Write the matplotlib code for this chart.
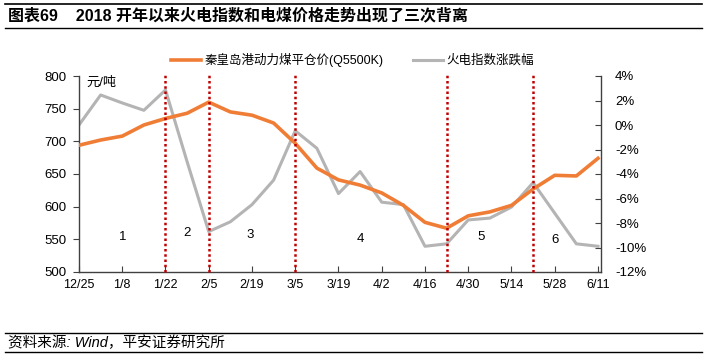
import numpy as np
import matplotlib
matplotlib.use("Agg")
import matplotlib.pyplot as plt
from matplotlib.lines import Line2D

plt.rcParams['font.family'] = ['Liberation Sans', 'Noto Sans CJK SC', 'DejaVu Sans']

# weekly data, 2017-12-25 .. 2018-06-11
weeks = ['12/25', '1/1', '1/8', '1/15', '1/22', '1/29', '2/5', '2/12', '2/19', '2/26',
         '3/5', '3/12', '3/19', '3/26', '4/2', '4/9', '4/16', '4/23', '4/30', '5/7',
         '5/14', '5/21', '5/28', '6/4', '6/11']
coal_price = [694, 702, 708, 725, 735, 743, 760, 745, 740, 728,
              697, 659, 641, 633, 621, 602, 576, 567, 586, 592,
              602, 627, 648, 647, 674]
index_chg = [0.0, 2.45, 1.8, 1.2, 2.86, -3.0, -8.7, -7.9, -6.5, -4.5,
             -0.47, -1.9, -5.6, -3.8, -6.3, -6.5, -9.9, -9.7, -7.75, -7.6,
             -6.7, -4.7, -7.2, -9.7, -9.9]
divergence_weeks = ['1/22', '2/5', '3/5', '4/23', '5/21']
phase_labels = ['1', '2', '3', '4', '5', '6']
phase_pos = [2.0, 5.0, 7.9, 13.0, 18.6, 22.0]
phase_y = [553, 559, 556, 551, 554, 549]
left_ticks = [500, 550, 600, 650, 700, 750, 800]
right_ticks = [-12, -10, -8, -6, -4, -2, 0, 2, 4]

orange = '#F07D36'
grey = '#B4B4B4'
red = '#C00000'

fig = plt.figure(figsize=(7.07, 3.54), dpi=100)
ax = fig.add_axes([79 / 707, 1 - 272 / 354, (601 - 79) / 707, (272 - 76) / 354])
ax2 = ax.twinx()

x = np.arange(len(weeks))
ax.plot(x, coal_price, color=orange, lw=2.6, zorder=3, solid_joinstyle='round')
ax2.plot(x, index_chg, color=grey, lw=2.2, zorder=2, solid_joinstyle='round')
ax.set_zorder(ax2.get_zorder() + 1)
ax.patch.set_visible(False)

for w in divergence_weeks:
    ax.axvline(weeks.index(w), ymin=0, ymax=1.01, color=red, lw=1.8,
               ls=(0, (1, 1.1)), zorder=4, clip_on=False)

for lab, px, py in zip(phase_labels, phase_pos, phase_y):
    ax.text(px, py, lab, ha='center', va='center', fontsize=9.5, color='black')

ax.set_xlim(0, 24.14)
ax.set_ylim(500, 800)
ax2.set_ylim(-12, 4)
ax.set_yticks(left_ticks)
ax2.set_yticks(right_ticks)
ax2.set_yticklabels(['%d%%' % t for t in right_ticks])
ax.set_xticks(x[::2])
ax.set_xticklabels(weeks[::2])

for a in (ax, ax2):
    a.spines['top'].set_visible(False)
    for s in a.spines.values():
        s.set_color('#404040')
        s.set_linewidth(1.0)
ax.spines['right'].set_visible(False)
ax2.spines['left'].set_visible(False)
ax2.spines['bottom'].set_visible(False)

ax.tick_params(axis='y', direction='out', length=4, labelsize=9.5, pad=5, color='#404040')
ax.tick_params(axis='x', direction='in', length=4, labelsize=9, pad=5, color='#404040')
ax2.tick_params(axis='y', direction='in', length=4, labelsize=9.5, pad=10, color='#404040')

ax.text(0.35, 790, '元/吨', fontsize=9.5, va='center', ha='left')

handles = [Line2D([], [], color=orange, lw=2.6), Line2D([], [], color=grey, lw=2.2)]
fig.legend(handles, ['秦皇岛港动力煤平仓价(Q5500K)', '火电指数涨跌幅'],
           loc='center left', bbox_to_anchor=(171 / 707, 1 - 60 / 354), ncol=2,
           frameon=False, fontsize=9, handlelength=2.4, handletextpad=0.3,
           columnspacing=2.3, borderaxespad=0, borderpad=0)

# header / footer
fig.add_artist(Line2D([5 / 707, 702 / 707], [1 - 4 / 354] * 2, color='black', lw=1.2))
fig.add_artist(Line2D([5 / 707, 702 / 707], [1 - 28 / 354] * 2, color='black', lw=1.0))
fig.text(8 / 707, 1 - 16 / 354, '图表69    2018 开年以来火电指数和电煤价格走势出现了三次背离',
         fontsize=11.5, fontweight='bold', va='center', ha='left')
fig.add_artist(Line2D([5 / 707, 702 / 707], [1 - 333 / 354] * 2, color='black', lw=1.0))
fig.add_artist(Line2D([5 / 707, 702 / 707], [1 - 352 / 354] * 2, color='black', lw=1.0))
fig.text(8 / 707, 1 - 343 / 354, '资料来源: Wind，平安证券研究所', fontsize=10.5,
         style='italic', va='center', ha='left')

fig.savefig('out.png', dpi=100)
